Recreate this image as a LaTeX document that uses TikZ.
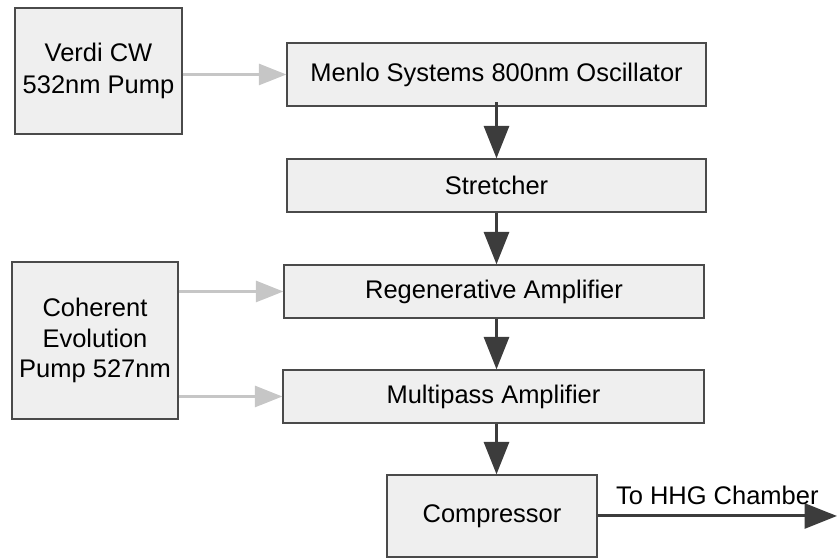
\documentclass[tikz,border=0pt]{standalone}
\usepackage{fontspec}
\setmainfont{Liberation Sans}
\usetikzlibrary{arrows.meta,positioning}
\definecolor{boxfill}{HTML}{EFEFEF}
\definecolor{boxline}{HTML}{4A4A4A}
\definecolor{beamgray}{HTML}{3C3C3C}
\definecolor{pumpgray}{HTML}{C6C6C6}
\tikzset{
  stage/.style={draw=boxline, fill=boxfill, line width=0.7pt, inner sep=0pt,
    font=\fontsize{14.5}{17.5}\selectfont, align=center},
  beam/.style={beamgray, line width=1.7pt, -{Triangle[length=6.5mm,width=5mm]}},
  pumpbeam/.style={pumpgray, line width=1.6pt, -{Triangle[length=5.5mm,width=4.2mm]}}
}
\begin{document}
\begin{tikzpicture}
  \useasboundingbox (0,0) rectangle (16.74,11.18);
  % Pumpen
  \node[stage, minimum width=3.34cm, minimum height=2.52cm, font=\fontsize{14.5}{18.2}\selectfont] (verdi) at (1.97,9.76) {Verdi CW\\532nm Pump};
  \node[stage, minimum width=3.32cm, minimum height=3.14cm] (coherent) at (1.9,4.37) {Coherent\\Evolution\\Pump 527nm};

  % Laserkette
  \node[stage, minimum width=8.38cm, minimum height=1.26cm] (menlo) at (9.93,9.69) {Menlo Systems 800nm Oscillator};
  \node[stage, minimum width=8.38cm, minimum height=1.06cm] (stretcher) at (9.93,7.47) {Stretcher};
  \node[stage, minimum width=8.4cm, minimum height=1.06cm] (regen) at (9.88,5.35) {Regenerative Amplifier};
  \node[stage, minimum width=8.42cm, minimum height=1.06cm] (multipass) at (9.87,3.25) {Multipass Amplifier};
  \node[stage, minimum width=4.2cm, minimum height=1.64cm] (compressor) at (9.84,0.86) {Compressor};
  \coordinate (hhg) at (16.74,0.86);

  % Strahlengang
  \draw[beam] (stretcher.north -| menlo.south) ++(0,1.12) -- (stretcher.north);
  \draw[beam] (stretcher.south) -- (stretcher.south |- regen.north);
  \draw[beam] (regen.south -| stretcher.south) -- (stretcher.south |- multipass.north);
  \draw[beam] (multipass.south -| stretcher.south) -- (stretcher.south |- compressor.north);
  \draw[beam] (compressor.east) -- (hhg) node[pos=0.5, above=2pt, black, font=\fontsize{14.5}{17}\selectfont] (hhglabel) {To HHG Chamber};

  % Pumpstrahlen
  \draw[pumpbeam] (verdi.east |- menlo.west) -- (menlo.west);
  \draw[pumpbeam] (coherent.east |- regen.west) -- (regen.west);
  \draw[pumpbeam] (coherent.east |- multipass.west) -- (multipass.west);
\end{tikzpicture}
\end{document}
